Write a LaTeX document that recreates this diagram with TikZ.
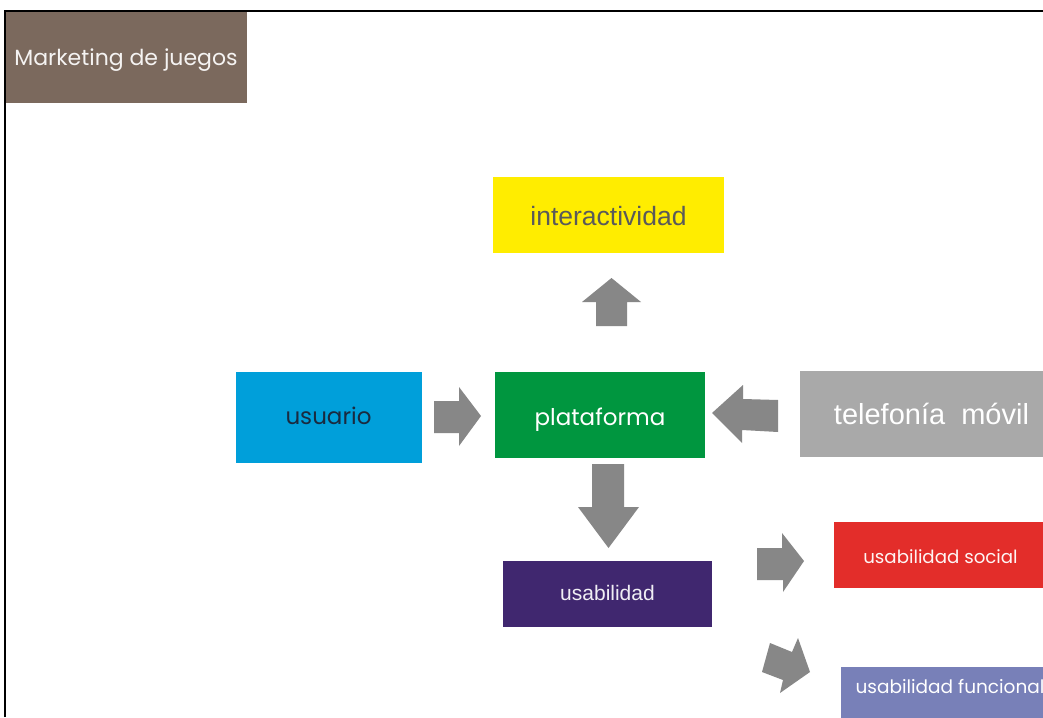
\documentclass[tikz,border=0pt]{standalone}
\usepackage{fontspec}
\setmainfont{Liberation Sans}
\newfontfamily\geofont{Poppins}

\definecolor{brownbox}{HTML}{7B695D}
\definecolor{yellowbox}{HTML}{FFED00}
\definecolor{bluebox}{HTML}{009FDA}
\definecolor{greenbox}{HTML}{00963F}
\definecolor{greybox}{HTML}{A9A9A9}
\definecolor{purplebox}{HTML}{40276F}
\definecolor{redbox}{HTML}{E32D2A}
\definecolor{lavenderbox}{HTML}{7880B8}
\definecolor{arrowgrey}{HTML}{878787}
\definecolor{inktext}{HTML}{5A5A5A}
\definecolor{navytext}{HTML}{1A2A3F}

% place a text with its baseline #1 pt above the node centre
\newcommand\atbase[2]{\raisebox{#1pt}[0pt][0pt]{#2}}

\begin{document}
\begin{tikzpicture}[x=1pt,y=-1pt,
  box/.style={rectangle, inner sep=0pt, draw=none},
  blockarrow/.style={fill=arrowgrey, draw=none}]
\useasboundingbox (0,0) rectangle (1043,717);
\fill[white] (0,0) rectangle (1043,717);

% boxes
\node[box, fill=brownbox, minimum width=241, minimum height=91, text=white!92!brownbox,
      font=\geofont\fontsize{22}{25}\selectfont] (title) at (126,57.5)
      {\atbase{-7.5}{Marketing de juegos}};
\node[box, fill=yellowbox, minimum width=231, minimum height=76, text=inktext,
      font=\fontsize{26.5}{30}\selectfont] (inter) at (608.5,215)
      {\atbase{-10}{interactividad}};
\node[box, fill=bluebox, minimum width=186, minimum height=91, text=navytext,
      font=\geofont\fontsize{23}{26}\selectfont] (user) at (328.5,417.5)
      {\atbase{-6.5}{usuario}};
\node[box, fill=greenbox, minimum width=210, minimum height=86, text=white,
      font=\geofont\fontsize{23}{26}\selectfont] (plat) at (600,415)
      {\atbase{-10}{plataforma}};
\node[box, fill=greybox, minimum width=263, minimum height=86, text=white,
      font=\fontsize{29}{33}\selectfont] (phone) at (931.5,414)
      {\atbase{-10}{telefonía~~móvil}};
\node[box, fill=purplebox, minimum width=209, minimum height=66, text=white!92!purplebox,
      font=\fontsize{21}{24}\selectfont] (usab) at (607.5,594)
      {\atbase{-6}{usabilidad}};
\node[box, fill=redbox, minimum width=213, minimum height=66, text=white!95!redbox,
      font=\geofont\fontsize{18.2}{21}\selectfont] (social) at (940.5,555)
      {\atbase{-8}{usabilidad social}};
\node[box, fill=lavenderbox, minimum width=218, minimum height=66, text=white,
      font=\geofont\fontsize{18.5}{21}\selectfont] (func) at (950,700)
      {\atbase{7}{usabilidad funcional}};

% block arrows
% plataforma -> interactividad
\fill[blockarrow] (596,326) -- (596,302) -- (582,302) -- (611.5,278)
  -- (641,302) -- (627,302) -- (627,326) -- cycle;
% usuario -> plataforma
\fill[blockarrow] (434,401) -- (459,401) -- (459,387) -- (481,416)
  -- (459,446) -- (459,433) -- (434,433) -- cycle;
% telefonia movil -> plataforma
\fill[blockarrow] (778,400) -- (743,399) -- (743,385) -- (712,413)
  -- (742,443) -- (742,430) -- (778,432) -- cycle;
% plataforma -> usabilidad
\fill[blockarrow] (592,464) -- (624,464) -- (624,507) -- (639,507)
  -- (608.5,548) -- (578,507) -- (592,507) -- cycle;
% usabilidad -> usabilidad social
\fill[blockarrow] (757,548) -- (782,548) -- (782,533) -- (804,561)
  -- (783,592) -- (783,580) -- (757,580) -- cycle;
% usabilidad -> usabilidad funcional
\fill[blockarrow] (770,643) -- (792,652) -- (798,638) -- (810,672)
  -- (780,693) -- (783,680) -- (762,672) -- cycle;

% frame
\draw[line width=2pt] (5,717) -- (5,10.8) -- (1043,10.8);
\end{tikzpicture}
\end{document}
